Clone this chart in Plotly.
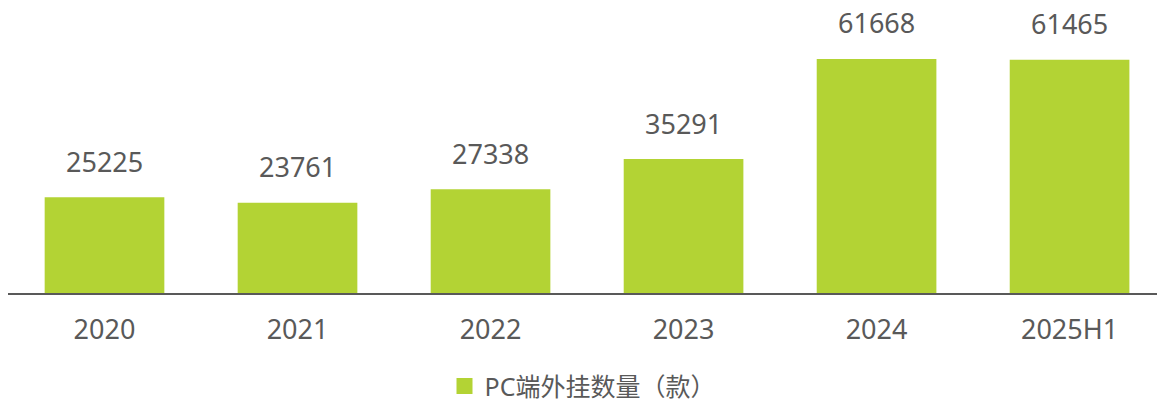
import plotly.graph_objects as go

years = ["2020", "2021", "2022", "2023", "2024", "2025H1"]
counts = [25225, 23761, 27338, 35291, 61668, 61465]
series_name = "PC端外挂数量（款）"

bar_color = "#b3d334"
text_color = "#595959"
font_family = "Noto Sans, Noto Sans CJK SC, sans-serif"

pos = list(range(len(years)))

fig = go.Figure()

fig.add_trace(
    go.Bar(
        x=pos,
        y=counts,
        name=series_name,
        marker=dict(color=bar_color, line=dict(width=0)),
        width=0.62,
        showlegend=False,
    )
)

# legend entry with a bigger square swatch
fig.add_trace(
    go.Scatter(
        x=[None],
        y=[None],
        mode="markers",
        name=series_name,
        marker=dict(symbol="square", size=16, color=bar_color),
        showlegend=True,
    )
)

# value labels above the bars
for i, v in zip(pos, counts):
    fig.add_annotation(
        x=i,
        y=v,
        text=str(v),
        showarrow=False,
        yanchor="middle",
        yshift=36,
        font=dict(size=27, color=text_color, family=font_family),
    )

fig.update_xaxes(
    range=[-0.5, 5.453],
    tickvals=pos,
    ticktext=years,
    showline=True,
    linecolor="#595959",
    linewidth=1.5,
    showgrid=False,
    zeroline=False,
    ticks="",
    ticklabelstandoff=12,
    tickfont=dict(size=27, color=text_color, family=font_family),
    automargin=False,
)
fig.update_yaxes(
    range=[0, 77200],
    visible=False,
    showgrid=False,
    zeroline=False,
    automargin=False,
)

fig.update_layout(
    width=1157,
    height=402,
    margin=dict(l=8, r=0, t=0, b=109, autoexpand=False),
    plot_bgcolor="white",
    paper_bgcolor="white",
    font=dict(family=font_family, color=text_color),
    showlegend=True,
    legend=dict(
        orientation="h",
        x=0.5,
        xanchor="center",
        y=-0.318,
        yanchor="middle",
        font=dict(size=25, color=text_color, family=font_family),
        itemwidth=30,
    ),
)

fig.write_html(
    "out.html",
    config={"displayModeBar": False},
    post_script="document.body.style.margin='0';",
)
